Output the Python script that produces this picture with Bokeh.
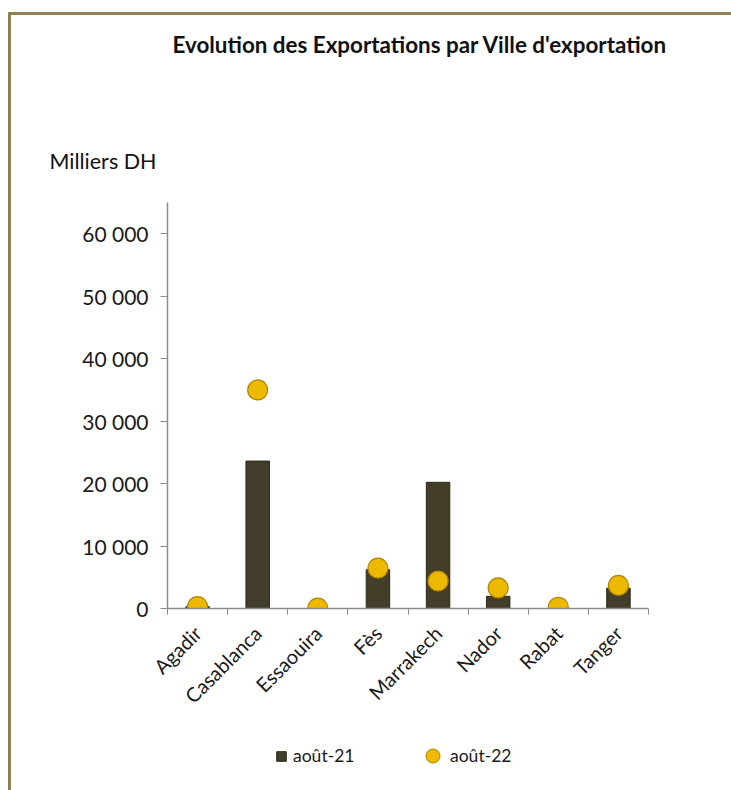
from bokeh.plotting import figure
from bokeh.layouts import column
from bokeh.models import (FixedTicker, Range1d, Label, Legend, LegendItem, ColumnDataSource)
from bokeh.embed import file_html
from bokeh.resources import INLINE
import math

# ---- data ----
cities = ["Agadir", "Casablanca", "Essaouira", "Fès", "Marrakech", "Nador", "Rabat", "Tanger"]
aout_21 = [300, 23600, 0, 6200, 20200, 1950, 0, 3250]
aout_22 = [300, 35000, 50, 6450, 4400, 3300, 200, 3700]
y_ticks = [0, 10000, 20000, 30000, 40000, 50000, 60000]
title_text = "Evolution des Exportations par Ville d'exportation"
unit_text = "Milliers DH"
series_names = ["août-21", "août-22"]

FONT = "Lato"
BAR_FILL, BAR_LINE = "#433e29", "#2b2818"
DOT_FILL, DOT_LINE = "#ecb800", "#b08300"
W = 720
H_HEAD, H_MAIN, H_FOOT = 170, 545, 60

def bare(h):
    f = figure(width=W, height=h, output_backend="svg", toolbar_location=None,
               x_axis_location=None, y_axis_location=None,
               x_range=Range1d(0, 1), y_range=Range1d(0, 1),
               min_border=0, frame_align=False,
               background_fill_color="white", border_fill_color="white")
    f.outline_line_color = None
    f.grid.visible = False
    return f

# ---- header: title + unit ----
head = bare(H_HEAD)
head.add_layout(Label(x=161, y=H_HEAD - 29, x_units="screen", y_units="screen", text=title_text,
                      text_font=FONT, text_font_size="22.4px", text_font_style="bold",
                      text_align="left", text_baseline="middle", text_color="#111111"))
head.add_layout(Label(x=38, y=H_HEAD - 145, x_units="screen", y_units="screen", text=unit_text,
                      text_font=FONT, text_font_size="21.5px",
                      text_align="left", text_baseline="middle", text_color="#111111"))

# ---- main chart ----
xs = [i + 0.5 for i in range(len(cities))]
src = ColumnDataSource(dict(x=xs, city=cities, a21=aout_21, a22=aout_22))

p = figure(width=W, height=H_MAIN, output_backend="svg", toolbar_location=None,
           x_range=Range1d(0, len(cities)), y_range=Range1d(0, 65000),
           min_border_left=156, min_border_right=83, min_border_top=17, min_border_bottom=122,
           background_fill_color="white", border_fill_color="white")
p.outline_line_color = None
p.grid.visible = False

xa = p.xaxis[0]
xa.ticker = FixedTicker(ticks=xs, minor_ticks=list(range(len(cities) + 1)))
xa.major_label_overrides = {x: c for x, c in zip(xs, cities)}
xa.major_tick_out = 0
xa.major_tick_in = 0
xa.minor_tick_out = 6
xa.minor_tick_in = 0
xa.minor_tick_line_color = "#8c8c8c"
xa.axis_line_color = "#8c8c8c"
xa.axis_line_width = 1.5
xa.major_label_orientation = math.pi / 4
xa.major_label_text_font = FONT
xa.major_label_text_font_size = "20px"
xa.major_label_text_color = "#1a1a1a"
xa.major_label_standoff = 15

ya = p.yaxis[0]
ya.ticker = FixedTicker(ticks=y_ticks, minor_ticks=[])
ya.major_label_overrides = {t: f"{t:,}".replace(",", " ") for t in y_ticks}
ya.major_tick_out = 7
ya.major_tick_in = 0
ya.major_tick_line_color = "#8c8c8c"
ya.axis_line_color = "#8c8c8c"
ya.axis_line_width = 1.5
ya.minor_tick_line_color = None
ya.major_label_text_font = FONT
ya.major_label_text_font_size = "21px"
ya.major_label_text_color = "#1a1a1a"
ya.major_label_standoff = 12

p.vbar(x="x", top="a21", width=0.39, bottom=0, source=src,
       fill_color=BAR_FILL, line_color=BAR_LINE, line_width=1)
p.scatter(x="x", y="a22", size=20, source=src, marker="circle",
          fill_color=DOT_FILL, line_color=DOT_LINE, line_width=1.2)

# ---- footer: legend (renderers hidden, only their legend swatches show) ----
foot = bare(H_FOOT)
lb = foot.vbar(x=xs[:1], top=aout_21[:1], width=0.5, fill_color=BAR_FILL, line_color=BAR_LINE,
               visible=False)
lp = foot.scatter(x=xs[:1], y=aout_22[:1], size=14, marker="circle",
                  fill_color=DOT_FILL, line_color=DOT_LINE, visible=False)
common = dict(label_text_font=FONT, label_text_font_size="17.5px", label_text_color="#1a1a1a",
              border_line_color=None, background_fill_alpha=0, padding=0, margin=0,
              inactive_fill_alpha=0, click_policy="none")
leg1 = Legend(items=[LegendItem(label=series_names[0], renderers=[lb])],
              location=(264, H_FOOT - 36), glyph_width=12, glyph_height=12, label_standoff=6,
              **common)
leg2 = Legend(items=[LegendItem(label=series_names[1], renderers=[lp])],
              location=(404, H_FOOT - 43), glyph_width=35, glyph_height=35, label_standoff=0,
              **common)
foot.add_layout(leg1, "center")
foot.add_layout(leg2, "center")

layout = column(head, p, foot, spacing=0,
                styles={"border-top": "3px solid #8e8150", "border-left": "3px solid #8e8150",
                        "margin-top": "12px", "margin-left": "8px"})

open("out.html", "w").write(file_html(layout, INLINE))
